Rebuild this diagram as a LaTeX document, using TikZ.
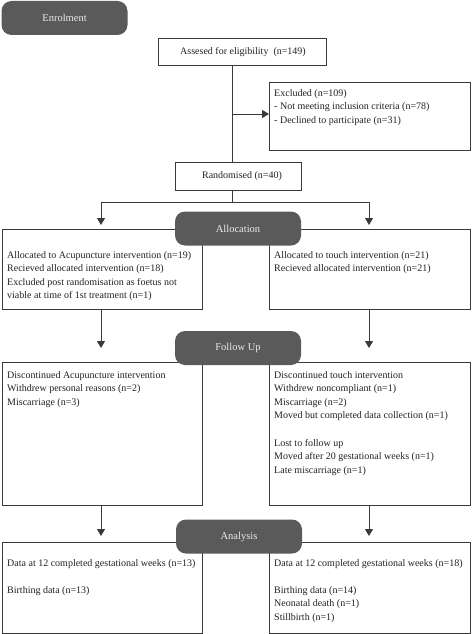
\documentclass[tikz,border=0pt]{standalone}
\usepackage{fontspec}
\setmainfont{Liberation Serif}
\usetikzlibrary{arrows.meta}
\definecolor{phase}{HTML}{5A5A5A}
\definecolor{ln}{HTML}{3A3A3A}
\definecolor{txt}{HTML}{222222}
\begin{document}
\begin{tikzpicture}[x=1pt,y=-1pt,
  box/.style={draw=ln,line width=0.9pt,fill=white,inner sep=0pt},
  phasebox/.style={fill=phase,rounded corners=10pt,inner sep=0pt,minimum width=126pt,minimum height=34pt,text=white!92!black,font=\fontsize{10.5}{12}\selectfont},
  lbl/.style={anchor=north west,inner sep=0pt,align=left,text=txt,font=\fontsize{10}{13.6}\selectfont},
  ctr/.style={inner sep=0pt,text=txt,font=\fontsize{10}{12}\selectfont},
  conn/.style={draw=ln,line width=1pt},
  arr/.style={conn,-{Triangle[length=7pt,width=8pt]}}]
\useasboundingbox (0,0) rectangle (472,634);
% boxes
\node[box,minimum width=168pt,minimum height=27pt] (assess) at (242,51.5) {};
\node[ctr] (assesst) at (243,52) {Assesed for eligibility\ \ (n=149)};
\node[box,minimum width=201pt,minimum height=68pt] (excl) at (370,116) {};
\node[lbl] (exclt) at (274,89) {Excluded (n=109)\\- Not meeting inclusion criteria (n=78)\\- Declined to participate (n=31)};
\node[box,minimum width=126pt,minimum height=28pt] (rand) at (238,176) {};
\node[ctr] (randt) at (242,176) {Randomised (n=40)};
\node[box,minimum width=200pt,minimum height=80pt] (allocL) at (102,269) {};
\node[box,minimum width=201pt,minimum height=80pt] (allocR) at (369.5,269) {};
\node[lbl] (allocLt) at (7,251) {Allocated to Acupuncture intervention (n=19)\\Recieved allocated intervention (n=18)\\Excluded post randomisation as foetus not\\viable at time of 1st treatment (n=1)};
\node[lbl] (allocRt) at (274,251) {Allocated to touch intervention (n=21)\\Recieved allocated intervention (n=21)};
\node[box,minimum width=200pt,minimum height=143pt] (fuL) at (102,433.5) {};
\node[box,minimum width=201pt,minimum height=143pt] (fuR) at (369.5,433.5) {};
\node[lbl] (fuLt) at (7,371) {Discontinued Acupuncture intervention\\Withdrew personal reasons (n=2)\\Miscarriage (n=3)};
\node[lbl] (fuRt) at (274,371) {Discontinued touch intervention\\Withdrew noncompliant (n=1)\\Miscarriage (n=2)\\Moved but completed data collection (n=1)\\[13.6pt]Lost to follow up\\Moved after 20 gestational weeks (n=1)\\Late miscarriage (n=1)};
\node[box,minimum width=200pt,minimum height=91pt] (anL) at (102,587.5) {};
\node[box,minimum width=201pt,minimum height=91pt] (anR) at (369.5,587.5) {};
\node[lbl] (anLt) at (7,559) {Data at 12 completed gestational weeks (n=13)\\[13.6pt]Birthing data (n=13)};
\node[lbl] (anRt) at (274,559) {Data at 12 completed gestational weeks (n=18)\\[13.6pt]Birthing data (n=14)\\Neonatal death (n=1)\\Stillbirth (n=1)};
% phase labels
\node[phasebox] (enrol) at (64.5,18) {Enrolment};
\node[phasebox] (alloc) at (238,228.5) {Allocation};
\node[phasebox] (follow) at (238,348) {Follow Up};
\node[phasebox] (analysis) at (239,536.5) {Analysis};
% connectors
\coordinate (exj) at (232,114);
\draw[conn] (assess.south -| exj) -- (rand.north -| exj);
\draw[arr] (exj) -- (excl.west |- exj);
\coordinate (split) at (232,202);
\coordinate (tipL1) at (101,225);
\coordinate (tipR1) at (369,225);
\draw[conn] (rand.south -| split) -- (split);
\draw[arr] (split) -| (tipL1);
\draw[arr] (split) -| (tipR1);
\coordinate (tipL2) at (101,348);
\coordinate (tipR2) at (369,348);
\draw[arr] (allocL.south -| tipL2) -- (tipL2);
\draw[arr] (allocR.south -| tipR2) -- (tipR2);
\coordinate (tipL3) at (101,536);
\coordinate (tipR3) at (369,536);
\draw[arr] (fuL.south -| tipL3) -- (tipL3);
\draw[arr] (fuR.south -| tipR3) -- (tipR3);
\end{tikzpicture}
\end{document}
